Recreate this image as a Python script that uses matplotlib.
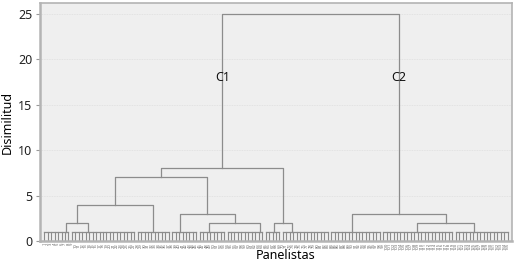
import numpy as np
import matplotlib
matplotlib.use('Agg')
import matplotlib.pyplot as plt

# leaf groups (classes joined at the lowest level), read left to right
group_sizes = [8, 19, 10, 8, 8, 11, 5, 14, 15, 21, 16]
group_height = [1.0, 1.0, 1.0, 1.0, 1.0, 1.0, 1.0, 1.0, 1.0, 1.0, 1.0]
# where the branch leaves each group (in leaf steps from the group's first leaf)
group_stem = [6.4, 4.7, 4.5, 2.3, 2.7, 9.4, 2.5, 2.7, 6.0, 9.8, 5.3]

# merges: (left node, right node, dissimilarity); nodes 0-10 are the groups
merges = [
    (0, 1, 2.0),
    (11, 2, 4.0),
    (4, 5, 2.0),
    (3, 13, 3.0),
    (12, 14, 7.0),
    (6, 7, 2.0),
    (15, 16, 8.0),
    (9, 10, 2.0),
    (8, 18, 3.0),
    (17, 19, 25.0),
]
cluster_names = {17: 'C1', 19: 'C2'}
cluster_label_y = 18.0

n_leaves = sum(group_sizes)
leaf_labels = [str(i + 1) for i in range(n_leaves)]

lc = '#8c8c8c'
plt.rcParams['font.family'] = ['Noto Sans', 'DejaVu Sans']

fig = plt.figure(figsize=(5.15, 2.63), dpi=100)
ax = fig.add_axes([0.0767, 0.0837, 0.9183, 0.905])
ax.set_facecolor('#efefef')

pos = {}
hgt = {}
start = 0
for g, n in enumerate(group_sizes):
    xs = np.arange(start, start + n)
    h = group_height[g]
    for x in xs:
        ax.plot([x, x], [0, h], color=lc, lw=0.8)
    ax.plot([xs[0], xs[-1]], [h, h], color=lc, lw=0.9)
    pos[g] = start + group_stem[g]
    hgt[g] = h
    start += n

node = len(group_sizes)
for a, b, h in merges:
    ax.plot([pos[a], pos[a], pos[b], pos[b]], [hgt[a], h, h, hgt[b]],
            color=lc, lw=0.9)
    pos[node] = (pos[a] + pos[b]) / 2
    hgt[node] = h
    node += 1

for k, name in cluster_names.items():
    ax.text(pos[k], cluster_label_y, name, ha='center', va='center',
            fontsize=9, color='#111111')

ax.set_xlim(-1.36, n_leaves - 1 + 1.36)
ax.set_ylim(0, 26.2)
ax.set_yticks([0, 5, 10, 15, 20, 25])
ax.set_xticks(range(n_leaves))
ax.set_xticklabels(leaf_labels, rotation=90, fontsize=3, color='#666666')
ax.tick_params(axis='x', length=0, pad=1.5)
ax.tick_params(axis='y', length=3, color='#999999', labelsize=9, pad=2,
               labelcolor='#222222')
ax.yaxis.grid(True, color='#dedede', lw=0.6, ls=(0, (1, 1)))
ax.set_axisbelow(True)
for s in ax.spines.values():
    s.set_color('#b4b4b4')
    s.set_linewidth(1.2)
ax.spines['left'].set_linewidth(1.8)
ax.spines['bottom'].set_linewidth(1.8)

ax.set_ylabel('Disimilitud', fontsize=9)
ax.yaxis.set_label_coords(-0.054, 0.5)
ax.set_xlabel('Panelistas', fontsize=9)
ax.xaxis.set_label_coords(0.52, -0.035)

fig.savefig('out.png', dpi=100)
